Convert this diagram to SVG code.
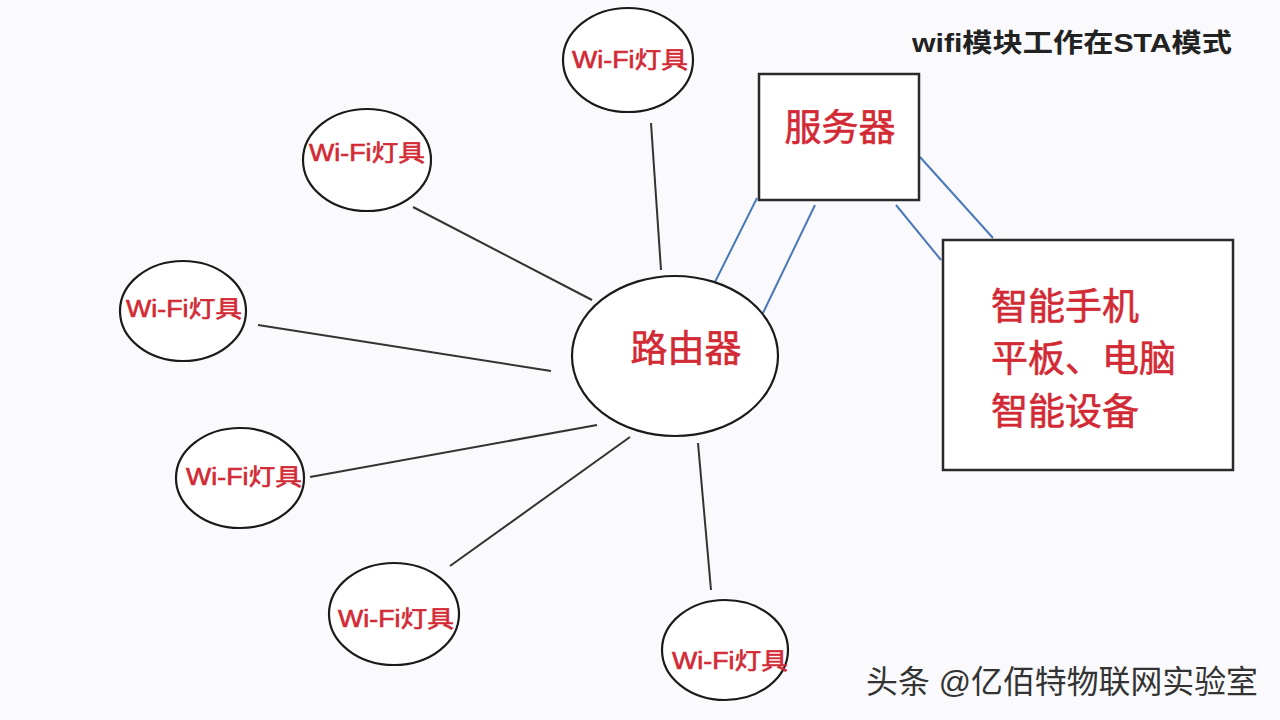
<svg xmlns="http://www.w3.org/2000/svg" width="1280" height="720" viewBox="0 0 1280 720">
<style>
.node{fill:#fff;stroke:#1a1a1a;stroke-width:2.2}
.box{fill:#fff;stroke:#2a2a2a;stroke-width:2.5}
.lbl{font-family:"Liberation Sans","Noto Sans CJK SC",sans-serif;fill:#d22a35;stroke:#d22a35;stroke-width:0.6;text-anchor:middle}
.sm{font-size:23px}
.big{font-size:37px}
.lft{text-anchor:start}
.blk{stroke:#333;stroke-width:2}
.blu{stroke:#4a78b8;stroke-width:2}
</style>
<rect width="1280" height="720" fill="#fafafc"/>
<g id="connectors" fill="none">
<line class="blk" x1="651" y1="123" x2="661" y2="270"/>
<line class="blk" x1="413" y1="207" x2="592" y2="300"/>
<line class="blk" x1="258" y1="325" x2="551" y2="371"/>
<line class="blk" x1="310" y1="477" x2="597" y2="425"/>
<line class="blk" x1="450" y1="566" x2="630" y2="437"/>
<line class="blk" x1="698" y1="443" x2="711" y2="590"/>
<line class="blu" x1="715" y1="282" x2="757" y2="198"/>
<line class="blu" x1="763" y1="313" x2="815" y2="205"/>
<line class="blu" x1="896" y1="205" x2="941" y2="260"/>
<line class="blu" x1="920" y1="157" x2="993" y2="238"/>
</g>
<g id="lamp1"><ellipse class="node" cx="628" cy="60" rx="65" ry="52"/><text class="lbl sm" x="630" y="68" textLength="116" lengthAdjust="spacingAndGlyphs">Wi-Fi灯具</text></g>
<g id="lamp2"><ellipse class="node" cx="367" cy="160" rx="64" ry="51"/><text class="lbl sm" x="367" y="161" textLength="116" lengthAdjust="spacingAndGlyphs">Wi-Fi灯具</text></g>
<g id="lamp3"><ellipse class="node" cx="183" cy="311" rx="63" ry="50"/><text class="lbl sm" x="184" y="317" textLength="116" lengthAdjust="spacingAndGlyphs">Wi-Fi灯具</text></g>
<g id="lamp4"><ellipse class="node" cx="240" cy="478" rx="64" ry="50"/><text class="lbl sm" x="244" y="485" textLength="116" lengthAdjust="spacingAndGlyphs">Wi-Fi灯具</text></g>
<g id="lamp5"><ellipse class="node" cx="394" cy="614" rx="65" ry="51"/><text class="lbl sm" x="396" y="627" textLength="116" lengthAdjust="spacingAndGlyphs">Wi-Fi灯具</text></g>
<g id="lamp6"><ellipse class="node" cx="725" cy="650" rx="63" ry="50"/><text class="lbl sm" x="730" y="669" textLength="116" lengthAdjust="spacingAndGlyphs">Wi-Fi灯具</text></g>
<g id="router"><ellipse class="node" cx="675" cy="356" rx="103" ry="80"/><text class="lbl big" x="686" y="362">路由器</text></g>
<g id="server"><rect class="box" x="759" y="74" width="160" height="126"/><text class="lbl big" x="840" y="141">服务器</text></g>
<g id="devices"><rect class="box" x="943" y="240" width="290" height="230"/>
<text class="lbl big lft" x="991" y="320">智能手机</text>
<text class="lbl big lft" x="991" y="372">平板、电脑</text>
<text class="lbl big lft" x="991" y="425">智能设备</text></g>
<text x="912" y="52" font-family="'Liberation Sans','Noto Sans CJK SC',sans-serif" font-size="26" font-weight="bold" fill="#222" textLength="320" lengthAdjust="spacingAndGlyphs">wifi模块工作在STA模式</text>
<text x="866" y="693" font-family="'Liberation Sans','Noto Sans CJK SC',sans-serif" font-size="32" fill="#333" textLength="392" lengthAdjust="spacingAndGlyphs">头条 @亿佰特物联网实验室</text>
</svg>
